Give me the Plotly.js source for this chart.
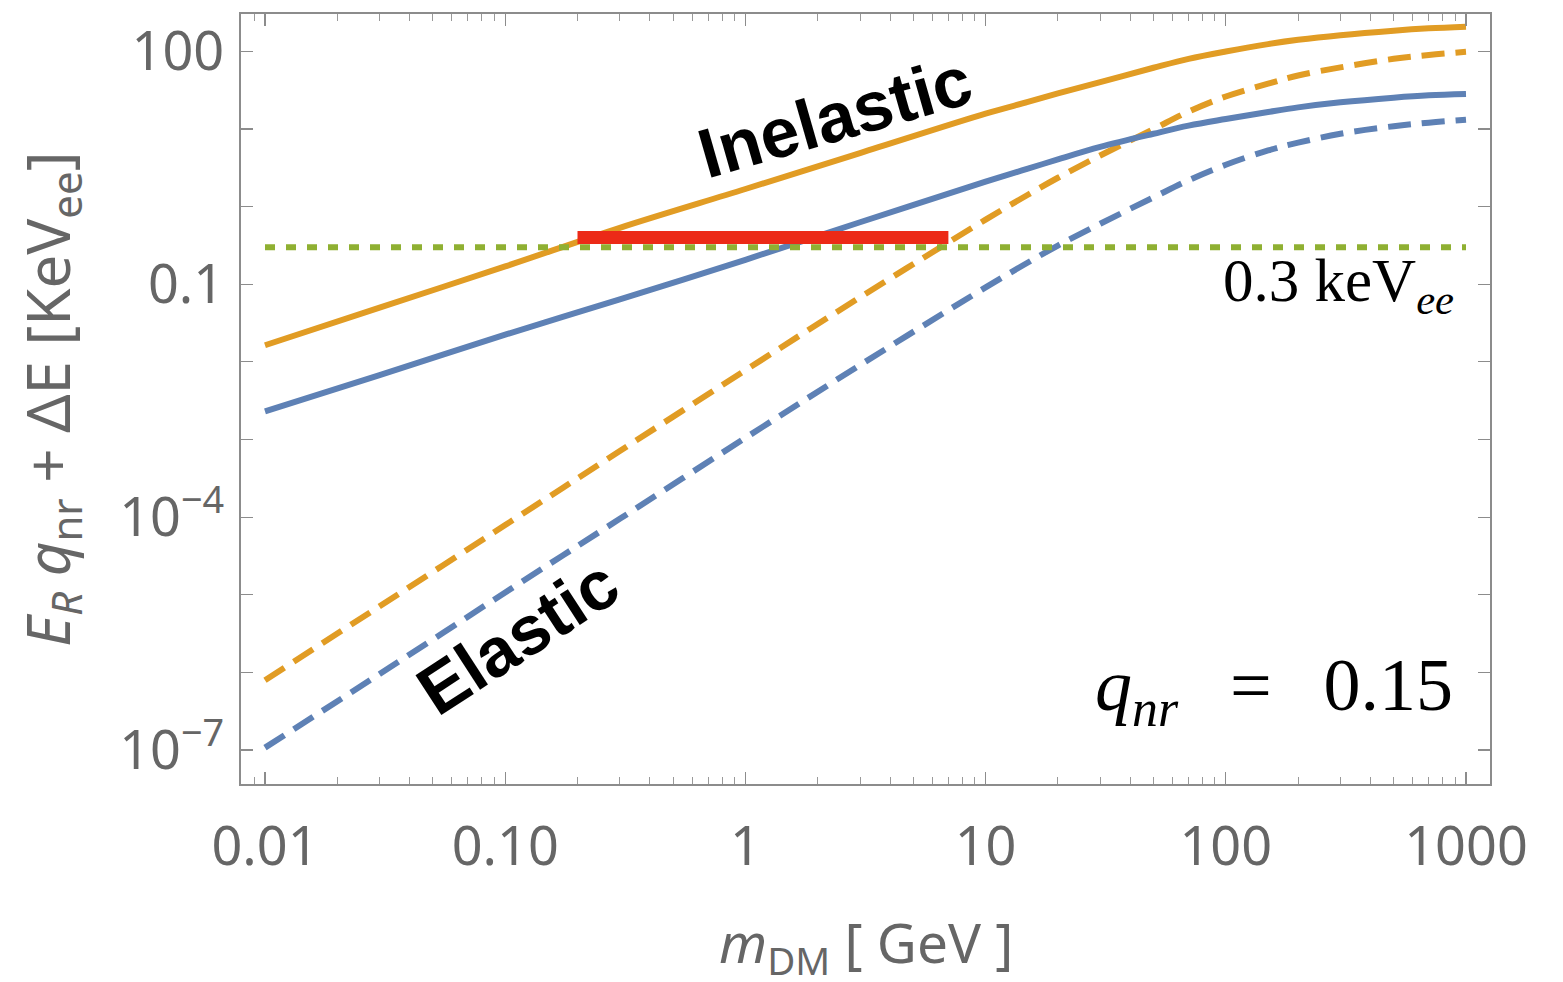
<!DOCTYPE html>
<html>
<head>
<meta charset="utf-8">
<script src="https://cdn.plot.ly/plotly-3.0.1.min.js"></script>
<style>html,body{margin:0;padding:0;background:#fff;}#chart{width:1563px;height:982px;}</style>
</head>
<body>
<div id="chart"></div>
<script>
// DM mass (GeV)
var massGeV = [0.01, 0.03, 0.1, 0.3, 1, 3, 10, 15, 20, 30, 50, 70, 100, 150, 200, 300, 500, 700, 1000];
// Inelastic (solid) curves, keVee
var inelasticOrange = [0.0164, 0.050, 0.170, 0.535, 1.69, 4.9, 15.8, 22.4, 28.8, 40.3, 61.7, 80.4, 100, 124.5, 141.3, 162.2, 185.4, 198.6, 208.9];
var inelasticBlue   = [0.00231, 0.00675, 0.0224, 0.064, 0.207, 0.63, 2.10, 3.09, 4.07, 5.89, 8.71, 11.09, 13.49, 16.6, 19.05, 22.13, 25.41, 27.23, 28.31];
// Elastic (dashed) curves, keVee
var elasticOrange = [7.9e-7, 7.1e-6, 7.9e-5, 7.1e-4, 7.8e-3, 0.068, 0.681, 1.426, 2.36, 4.57, 10.0, 16.8, 26.3, 38.5, 49.0, 62.4, 80.4, 90.2, 98.9];
var elasticBlue   = [1.07e-7, 9.5e-7, 1.07e-5, 9.5e-5, 1.05e-3, 9.1e-3, 0.0912, 0.191, 0.316, 0.603, 1.318, 2.19, 3.47, 5.31, 6.68, 8.71, 10.9, 12.1, 13.2];
// Threshold line and red band
var thresholdX = [0.01, 1000];
var thresholdY = [0.3, 0.3];
var bandX = [0.2, 7];
var bandY = [0.4, 0.4];
// Tick labels
var xTickVals = [0.01, 0.1, 1, 10, 100, 1000];
var xTickText = ['0.01', '0.10', '1', '10', '100', '1000'];
var xMinorVals = [0.008, 0.009, 0.02, 0.03, 0.04, 0.05, 0.06, 0.07, 0.08, 0.09,
  0.2, 0.3, 0.4, 0.5, 0.6, 0.7, 0.8, 0.9, 2, 3, 4, 5, 6, 7, 8, 9,
  20, 30, 40, 50, 60, 70, 80, 90, 200, 300, 400, 500, 600, 700, 800, 900];
var yTickVals = [1e-7, 1e-6, 1e-5, 1e-4, 1e-3, 1e-2, 1e-1, 1, 10, 100];
var yTickText = ['10<sup>\u22127</sup>', '', '', '10<sup>\u22124</sup>', '', '', '0.1', '', '', '100'];

var BLUE = '#5e81b5', ORANGE = '#e19c24', GREEN = '#8fb032', RED = '#ec2a17';
var LW = 6;

var traces = [
  {x: massGeV, y: elasticBlue, mode: 'lines', line: {color: BLUE, width: LW, dash: '23px,11px', shape: 'spline', smoothing: 1}},
  {x: massGeV, y: elasticOrange, mode: 'lines', line: {color: ORANGE, width: LW, dash: '23px,11px', shape: 'spline', smoothing: 1}},
  {x: massGeV, y: inelasticBlue, mode: 'lines', line: {color: BLUE, width: LW, shape: 'spline', smoothing: 1}},
  {x: massGeV, y: inelasticOrange, mode: 'lines', line: {color: ORANGE, width: LW, shape: 'spline', smoothing: 1}},
  {x: thresholdX, y: thresholdY, mode: 'lines', line: {color: GREEN, width: 6, dash: '10px,11px'}},
  {x: bandX, y: bandY, mode: 'lines', line: {color: RED, width: 13}}
];

var tickFont = {family: 'Noto Sans, sans-serif', size: 54, color: '#666'};
var axisCommon = {
  type: 'log', showgrid: false, zeroline: false, showline: true,
  linecolor: '#8c8c8c', linewidth: 2, mirror: 'allticks',
  ticks: 'inside', ticklen: 12, tickwidth: 1.2, tickcolor: '#8c8c8c',
  tickfont: tickFont, tickmode: 'array'
};

var layout = {
  width: 1563, height: 982,
  margin: {l: 241, r: 73, t: 14, b: 198},
  paper_bgcolor: '#fff', plot_bgcolor: '#fff',
  showlegend: false,
  xaxis: Object.assign({}, axisCommon, {
    range: [-2.0999, 3.0999],
    tickvals: xTickVals, ticktext: xTickText,
    ticklabelstandoff: 14,
    minor: {tickmode: 'array', tickvals: xMinorVals, ticks: 'inside', ticklen: 7, tickwidth: 1, tickcolor: '#999', showgrid: false}
  }),
  yaxis: Object.assign({}, axisCommon, {
    range: [-7.439, 2.483],
    tickvals: yTickVals, ticktext: yTickText,
    ticklabelstandoff: 4
  }),
  annotations: [
    {xref: 'paper', yref: 'paper', x: 0.5, y: -0.209, xanchor: 'center', yanchor: 'middle', showarrow: false,
     text: '<i>m</i><sub>DM</sub> [ GeV ]', font: {family: 'Noto Sans, sans-serif', size: 55, color: '#666'}},
    {xref: 'paper', yref: 'paper', x: -0.153, y: 0.5, xanchor: 'center', yanchor: 'middle', showarrow: false, textangle: -90,
     text: '<i>E</i><sub><i>R</i></sub> <i>q</i><sub>nr</sub> + \u0394E [KeV<sub>ee</sub>]', font: {family: 'Noto Sans, sans-serif', size: 60, color: '#666'}},
    {xref: 'paper', yref: 'paper', x: 0.4756, y: 0.866, xanchor: 'center', yanchor: 'middle', showarrow: false, textangle: -16,
     text: '<b>Inelastic</b>', font: {family: 'Liberation Sans, Arial, sans-serif', size: 70, color: '#000'}},
    {xref: 'paper', yref: 'paper', x: 0.2214, y: 0.190, xanchor: 'center', yanchor: 'middle', showarrow: false, textangle: -33,
     text: '<b>Elastic</b>', font: {family: 'Liberation Sans, Arial, sans-serif', size: 69, color: '#000'}},
    {xref: 'paper', yref: 'paper', x: 0.973, y: 0.648, xanchor: 'right', yanchor: 'middle', showarrow: false,
     text: '0.3 keV<sub><i>ee</i></sub>', font: {family: 'Liberation Serif, serif', size: 61, color: '#000'}},
    {xref: 'paper', yref: 'paper', x: 0.972, y: 0.122, xanchor: 'right', yanchor: 'middle', showarrow: false,
     text: '<i>q</i><sub><i>nr</i></sub>\u2002\u2009=\u2002\u20090.15', font: {family: 'Liberation Serif, serif', size: 74, color: '#000'}}
  ]
};

Plotly.newPlot('chart', traces, layout, {displayModeBar: false, staticPlot: true});
</script>
</body>
</html>
